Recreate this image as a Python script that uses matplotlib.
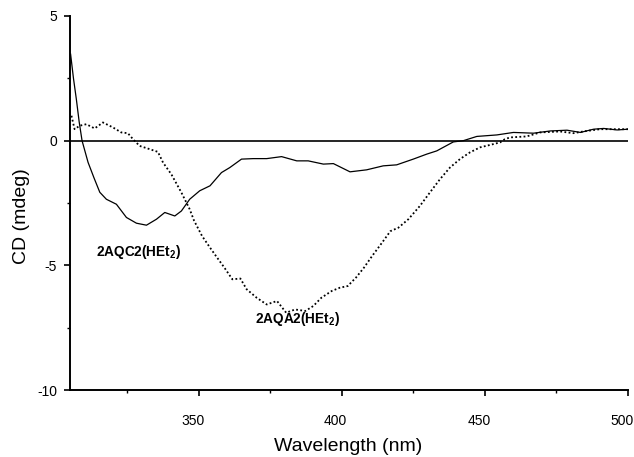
import matplotlib
matplotlib.use("Agg")
import matplotlib.pyplot as plt
from matplotlib.ticker import MultipleLocator
from matplotlib.transforms import ScaledTranslation

plt.rcParams['font.family'] = ['Liberation Sans', 'DejaVu Sans']
plt.rcParams['mathtext.fontset'] = 'custom'
plt.rcParams['mathtext.rm'] = 'Liberation Sans'
plt.rcParams['mathtext.bf'] = 'Liberation Sans:bold'
plt.rcParams['axes.unicode_minus'] = False

# 2AQC2(HEt2) - solid
wl_c = [305.3, 306.3, 307.3, 308.3, 309.3, 311.4, 313.5, 315.5, 317.8, 321.3,
        324.8, 328.3, 331.8, 335.3, 338.2, 341.7, 344.0, 346.9, 350.4, 354.0,
        358.0, 360.9, 365.0, 369.1, 373.8, 379.0, 384.3, 388.3, 393.6, 397.1,
        402.9, 408.7, 414.5, 419.2, 425.0, 429.7, 433.2, 439.0, 442.5, 447.2,
        454.2, 460.0, 467.0, 472.9, 478.7, 483.4, 488.0, 491.5, 496.2, 500.0]
cd_c = [3.47, 2.5, 1.67, 0.75, 0.0, -0.87, -1.5, -2.07, -2.35, -2.55,
        -3.08, -3.31, -3.39, -3.15, -2.88, -3.02, -2.82, -2.35, -2.01, -1.81,
        -1.28, -1.08, -0.74, -0.72, -0.72, -0.64, -0.81, -0.81, -0.94, -0.92,
        -1.25, -1.17, -1.01, -0.97, -0.74, -0.54, -0.41, -0.05, 0.0, 0.17,
        0.23, 0.33, 0.30, 0.39, 0.42, 0.33, 0.46, 0.49, 0.43, 0.46]

# 2AQA2(HEt2) - dotted
wl_a = [305.6, 306.7, 308.5, 310.8, 313.7, 316.6, 320.1, 323.0, 325.3, 327.1,
        329.4, 332.9, 335.8, 337.6, 340.5, 344.0, 346.9, 348.4, 351.2, 354.0,
        356.1, 359.0, 361.8, 364.6, 366.8, 370.3, 373.8, 377.4, 380.6, 383.7,
        387.3, 390.1, 392.9, 396.5, 399.3, 402.1, 405.0, 407.8, 410.6, 414.1,
        417.0, 419.8, 423.3, 427.3, 430.8, 434.3, 437.8, 441.3, 444.8, 448.3,
        452.9, 455.3, 457.0, 458.8, 464.6, 469.3, 476.2, 480.9, 484.4, 490.2, 500.0]
cd_a = [1.0, 0.46, 0.6, 0.66, 0.49, 0.73, 0.53, 0.33, 0.30, 0.06,
        -0.21, -0.34, -0.45, -0.88, -1.35, -2.08, -2.75, -3.2, -3.82, -4.29,
        -4.63, -5.09, -5.56, -5.53, -5.96, -6.3, -6.57, -6.43, -6.9, -6.77,
        -6.83, -6.63, -6.3, -6.03, -5.9, -5.83, -5.49, -5.09, -4.63, -4.09,
        -3.63, -3.49, -3.15, -2.62, -2.08, -1.55, -1.08, -0.74, -0.47, -0.27,
        -0.14, -0.07, 0.06, 0.13, 0.17, 0.33, 0.37, 0.30, 0.37, 0.46, 0.46]

x_ticks = [350, 400, 450, 500]
y_ticks = [-10, -5, 0, 5]

fig = plt.figure(figsize=(6.34, 4.57), dpi=100)
ax = fig.add_axes([0.110, 0.1466, 0.8805, 0.8184])

ax.axhline(0, color='black', lw=1.2, zorder=1)
ax.plot(wl_c, cd_c, color='black', lw=0.9, zorder=3)
ax.plot(wl_a, cd_a, color='black', lw=1.3, linestyle=(0, (1, 1.3)), zorder=3)

ax.set_xlim(305, 500)
ax.set_ylim(-10, 5)
ax.set_xticks(x_ticks)
ax.set_yticks(y_ticks)
ax.xaxis.set_minor_locator(MultipleLocator(25))
ax.yaxis.set_minor_locator(MultipleLocator(2.5))
ax.tick_params(which='major', direction='out', length=4, width=1.2, labelsize=10)
ax.tick_params(which='minor', direction='out', length=2.5, width=1.0)
ax.tick_params(axis='x', pad=13)
ax.tick_params(axis='y', pad=5)

shift = ScaledTranslation(-6 / 100, 0, fig.dpi_scale_trans)
for lab in ax.get_xticklabels():
    lab.set_transform(lab.get_transform() + shift)

for s in ['top', 'right']:
    ax.spines[s].set_visible(False)
for s in ['left', 'bottom']:
    ax.spines[s].set_linewidth(1.4)

ax.set_xlabel('Wavelength (nm)', fontsize=14)
ax.set_ylabel('CD (mdeg)', fontsize=14)
ax.xaxis.label.set_va('center')
ax.yaxis.label.set_va('center')
ax.xaxis.set_label_coords(0.498, -0.150)
ax.yaxis.set_label_coords(-0.086, 0.465)

ax.text(314.3, -4.48, r'2AQC2(HEt$_\mathbf{2}$)', fontsize=9.8, fontweight='bold',
        ha='left', va='center')
ax.text(369.7, -7.17, r'2AQA2(HEt$_\mathbf{2}$)', fontsize=9.8, fontweight='bold',
        ha='left', va='center')

fig.savefig('out.png', dpi=100)
